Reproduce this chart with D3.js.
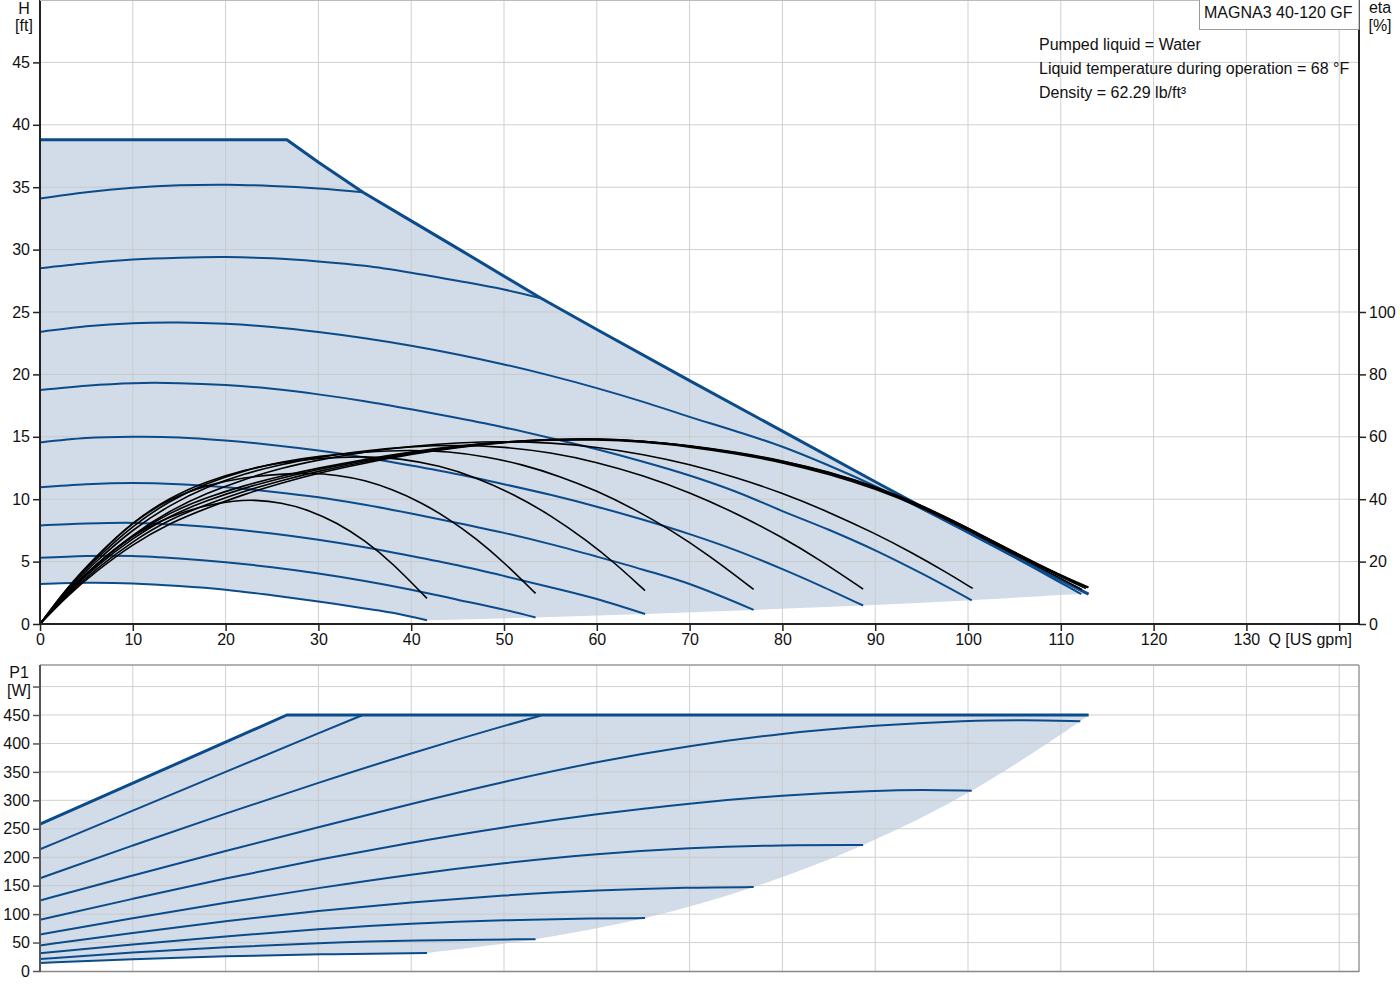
<!DOCTYPE html>
<html>
<head>
<meta charset="utf-8">
<script src="https://cdn.jsdelivr.net/npm/d3@7"></script>
<style>
  body { margin: 0; background: #fff; }
  svg text { font-family: "Liberation Sans", Arial, sans-serif; font-size: 16px; fill: #111; }
</style>
</head>
<body>
<div id="chart"></div>
<script>
// ---- data ----
var qTicks = [0, 10, 20, 30, 40, 50, 60, 70, 80, 90, 100, 110, 120, 130, 140];
var hTicks = [0, 5, 10, 15, 20, 25, 30, 35, 40, 45];
var hGrid = [5, 10, 15, 20, 25, 30, 35, 40, 45, 50];
var etaTicks = [0, 20, 40, 60, 80, 100];
var pTicks = [0, 50, 100, 150, 200, 250, 300, 350, 400, 450, 500];

var titleText = "MAGNA3 40-120 GF";
var infoLines = ["Pumped liquid = Water", "Liquid temperature during operation = 68 \u00B0F", "Density = 62.29 lb/ft\u00B3"];

// Q [US gpm] / H [ft] speed curves
var hMax = [[0, 38.8], [26.6, 38.8], [30, 37.0], [34.8, 34.6], [40, 32.3], [45, 30.1], [54, 26.1], [60, 23.6], [70, 19.5], [80, 15.45], [90, 11.4], [100, 7.4], [106, 5.0], [113, 2.4]];
var hS9 = [[0, 34.1], [5, 34.6], [10, 34.95], [15, 35.15], [20, 35.2], [25, 35.1], [30, 34.9], [34.8, 34.6]];
var hS8 = [[0, 28.5], [5, 28.9], [10, 29.2], [15, 29.35], [20, 29.4], [25, 29.3], [30, 29.05], [35, 28.7], [40, 28.15], [45, 27.5], [50, 26.8], [54, 26.1]];
var hS7 = [[0, 23.4], [5, 23.85], [10, 24.1], [15, 24.15], [20, 24.05], [25, 23.8], [30, 23.4], [35, 22.9], [40, 22.3], [45, 21.6], [50, 20.8], [55, 19.9], [60, 18.9], [65, 17.8], [70, 16.6], [75, 15.45], [80, 14.2], [85, 12.7], [90, 11.05], [94, 9.6], [100, 7.3], [105, 5.35], [110, 3.3], [112.2, 2.4]];
var hS6 = [[0, 18.75], [5, 19.1], [10, 19.3], [15, 19.3], [20, 19.15], [25, 18.85], [30, 18.4], [35, 17.85], [40, 17.2], [45, 16.5], [50, 15.75], [55, 14.9], [60, 14.0], [65, 13.0], [70, 11.9], [75, 10.6], [80, 9.05], [85, 7.55], [90, 5.9], [95, 4.05], [100.4, 1.9]];
var hS5 = [[0, 14.55], [5, 14.9], [10, 15.0], [15, 14.95], [20, 14.7], [25, 14.35], [30, 13.9], [35, 13.35], [40, 12.7], [45, 12.0], [50, 11.2], [55, 10.35], [60, 9.4], [65, 8.35], [70, 7.2], [75, 5.9], [80, 4.4], [84, 3.1], [88.7, 1.48]];
var hS4 = [[0, 10.95], [5, 11.2], [10, 11.3], [15, 11.2], [20, 10.95], [25, 10.6], [30, 10.15], [35, 9.55], [40, 8.85], [45, 8.1], [50, 7.3], [55, 6.4], [60, 5.4], [65, 4.35], [70, 3.2], [76.9, 1.13]];
var hS3 = [[0, 7.9], [5, 8.05], [10, 8.1], [15, 7.95], [20, 7.65], [25, 7.25], [30, 6.75], [35, 6.15], [40, 5.45], [45, 4.7], [50, 3.85], [55, 2.95], [60, 2.0], [65.2, 0.8]];
var hS2 = [[0, 5.3], [5, 5.45], [10, 5.45], [15, 5.25], [20, 4.95], [25, 4.55], [30, 4.05], [35, 3.45], [40, 2.75], [45, 1.95], [50, 1.15], [53.4, 0.52]];
var hS1 = [[0, 3.2], [5, 3.3], [10, 3.25], [15, 3.05], [20, 2.75], [25, 2.3], [30, 1.8], [35, 1.25], [38, 0.9], [41.7, 0.3]];

// Q / eta [%] efficiency curves
var etaA = [[0, 0], [3, 10.4], [6, 19.2], [10, 28.6], [14, 34.6], [18, 38.2], [21, 39.5], [23, 39.8], [26, 39.0], [29, 36.5], [32, 32.5], [35, 26.8], [38, 19.5], [41.7, 8.2]];
var etaB = [[0, 0], [3, 11.8], [6, 21.4], [10, 32.8], [14, 40.2], [18, 44.6], [22, 47.0], [26, 48.1], [29, 48.4], [32, 47.8], [35, 46.1], [38, 43.1], [41, 39.1], [44, 33.8], [47, 27.4], [50, 19.8], [53.4, 9.8]];
var etaC = [[0, 0], [3, 12.0], [6, 21.6], [10, 32.8], [14, 40.6], [18, 45.8], [22, 49.4], [26, 51.8], [30, 53.2], [35, 53.8], [39, 53.0], [43, 50.8], [47, 47.0], [51, 41.7], [55, 34.9], [59, 26.6], [62, 19.4], [65.2, 10.7]];
var etaD = [[0, 0], [3, 11.6], [6, 20.8], [10, 31.6], [14, 39.6], [18, 45.2], [22, 49.2], [26, 52.0], [30, 53.8], [35, 55.2], [40, 55.8], [44, 55.3], [48, 53.7], [52, 51.1], [56, 47.4], [60, 42.7], [64, 36.9], [68, 30.1], [72, 22.2], [76.9, 11.1]];
var etaE = [[0, 0], [3, 11.2], [6, 20.0], [10, 30.4], [14, 38.2], [18, 44.0], [22, 48.2], [26, 51.2], [30, 53.4], [35, 55.6], [40, 56.9], [45, 57.4], [50, 56.8], [55, 55.0], [60, 51.9], [65, 47.6], [70, 42.2], [75, 35.5], [80, 27.8], [84, 20.6], [88.7, 11.2]];
var etaF = [[0, 0], [3, 10.8], [6, 19.0], [10, 28.8], [14, 36.4], [18, 42.0], [22, 46.4], [26, 50.0], [30, 52.6], [35, 55.2], [40, 57.0], [45, 58.1], [50, 58.6], [55, 58.1], [60, 56.75], [65, 54.4], [70, 51.2], [75, 47.0], [80, 42.0], [85, 35.9], [90, 29.0], [94, 22.8], [97.5, 16.85], [100.5, 11.4]];
var etaG1 = [[0, 0], [3, 10.4], [6, 19.0], [10, 28.4], [14, 35.8], [18, 40.6], [22, 44.4], [26, 47.4], [30, 50.0], [35, 52.8], [40, 55.2], [45, 57.1], [50, 58.4], [55, 59.0], [60, 59.1], [65, 58.4], [70, 56.8], [75, 54.6], [80, 51.8], [85, 48.1], [90, 43.4], [95, 37.4], [100, 30.1], [105, 22.2], [110, 14.6], [112.3, 11.0]];
var etaG2 = [[0, 0], [3, 10.0], [6, 18.4], [10, 27.6], [14, 34.8], [18, 39.6], [22, 43.6], [26, 46.8], [30, 49.6], [35, 52.4], [40, 55.0], [45, 57.0], [50, 58.4], [55, 59.1], [60, 59.3], [65, 58.6], [70, 57.1], [75, 54.9], [80, 52.1], [85, 48.5], [90, 43.8], [95, 37.8], [100, 30.5], [105, 22.6], [110, 15.0], [112.7, 11.4]];
var etaG3 = [[0, 0], [3, 9.6], [6, 17.6], [10, 26.6], [14, 33.6], [18, 38.4], [22, 42.6], [26, 46.0], [30, 49.0], [35, 52.0], [40, 54.7], [45, 56.8], [50, 58.3], [55, 59.2], [60, 59.4], [65, 58.7], [70, 57.2], [75, 55.1], [80, 52.4], [85, 48.8], [90, 44.1], [95, 38.1], [100, 30.8], [105, 22.9], [110, 15.3], [112.9, 11.6]];
var etaG4 = [[0, 0], [3, 9.2], [6, 16.8], [10, 25.6], [14, 32.4], [18, 37.2], [22, 41.6], [26, 45.2], [30, 48.4], [35, 51.6], [40, 54.4], [45, 56.6], [50, 58.2], [55, 59.2], [60, 59.4], [65, 58.7], [70, 57.1], [75, 55.0], [80, 52.3], [85, 48.7], [90, 44.0], [95, 38.0], [100, 30.8], [105, 23.0], [110, 15.6], [113, 11.8]];

// Q / P1 [W] power curves
var pMax = [[0, 258], [26.6, 450], [113, 450]];
var pS9 = [[0, 214], [10, 282], [20, 350], [30, 418], [34.8, 450]];
var pS8 = [[0, 163], [10, 221], [20, 277], [30, 331], [40, 383], [50, 431], [54, 449]];
var pS7 = [[0, 124], [10, 168], [20, 211], [30, 253], [40, 294], [50, 333], [60, 368], [70, 396], [80, 418], [90, 432], [100, 440], [106, 441.5], [112.1, 439]];
var pS6 = [[0, 90], [10, 127], [20, 163], [30, 196], [40, 226], [50, 253], [60, 276], [70, 295], [80, 309], [90, 317], [95, 319], [100.4, 317]];
var pS5 = [[0, 64], [10, 93], [20, 120], [30, 146], [40, 170], [50, 190], [60, 206], [70, 216.5], [80, 221.5], [88.7, 221.5]];
var pS4 = [[0, 45], [10, 67], [20, 88], [30, 106], [40, 121], [50, 133], [60, 142], [70, 147], [76.9, 147.5]];
var pS3 = [[0, 31], [10, 47], [20, 61], [30, 74], [40, 83.5], [50, 89.5], [60, 92.5], [65.2, 93]];
var pS2 = [[0, 21], [10, 33], [20, 42], [30, 49], [40, 54], [53.4, 56]];
var pS1 = [[0, 14], [10, 21], [20, 26], [30, 29.5], [41.7, 31.5]];

// ---- drawing ----
var blue = "#0b4b8a", fillCol = "#d1dce8", gridCol = "#c9c9c9";
var left = 40, right = 1359;

var svg = d3.select("#chart").append("svg")
    .attr("width", 1400)
    .attr("height", 1000);

var x = d3.scaleLinear().domain([0, 140]).range([left, 1339.2]);
var yH = d3.scaleLinear().domain([0, 50]).range([624, 0]);
var yEta = d3.scaleLinear().domain([0, 200]).range([624, 0]);
var yP = d3.scaleLinear().domain([0, 450]).range([971, 715]);

function pathOf(pts, yScale, curve) {
  return d3.line()
      .x(function (d) { return x(d[0]); })
      .y(function (d) { return yScale(d[1]); })
      .curve(curve || d3.curveCatmullRom.alpha(0.5))(pts);
}
function last(a) { return a[a.length - 1]; }

// shaded operating areas
var hSpeeds = [hS7, hS6, hS5, hS4, hS3, hS2, hS1];
var hEdge = [last(hMax)].concat(hSpeeds.map(last));
var hArea = pathOf(hMax, yH, d3.curveLinear) +
    pathOf(hEdge, yH).replace(/^M/, "L") +
    pathOf(hS1.slice().reverse(), yH).replace(/^M/, "L") + "Z";
svg.append("path").attr("d", hArea).attr("fill", fillCol);

var pSpeeds = [pS7, pS6, pS5, pS4, pS3, pS2, pS1];
var pEdge = [last(pMax)].concat(pSpeeds.map(last));
var pArea = pathOf(pMax, yP, d3.curveLinear) +
    pathOf(pEdge, yP).replace(/^M/, "L") +
    pathOf(pS1.slice().reverse(), yP, d3.curveBasis).replace(/^M/, "L") + "Z";
svg.append("path").attr("d", pArea).attr("fill", fillCol);

// grid
var grid = svg.append("g").attr("stroke", gridCol).attr("stroke-width", 1).attr("opacity", 0.85);
qTicks.slice(1).forEach(function (q) {
  grid.append("line").attr("x1", x(q)).attr("x2", x(q)).attr("y1", 0).attr("y2", 624);
  grid.append("line").attr("x1", x(q)).attr("x2", x(q)).attr("y1", 665).attr("y2", 971);
});
hGrid.forEach(function (h) {
  grid.append("line").attr("x1", left).attr("x2", right).attr("y1", yH(h)).attr("y2", yH(h));
});
pTicks.slice(1).forEach(function (p) {
  grid.append("line").attr("x1", left).attr("x2", right).attr("y1", yP(p)).attr("y2", yP(p));
});

// blue speed curves
[hS9, hS8, hS7, hS6, hS5, hS4, hS3, hS2, hS1].forEach(function (c) {
  svg.append("path").attr("d", pathOf(c, yH)).attr("fill", "none")
      .attr("stroke", blue).attr("stroke-width", 2);
});
svg.append("path").attr("d", pathOf(hMax, yH, d3.curveLinear)).attr("fill", "none")
    .attr("stroke", blue).attr("stroke-width", 3).attr("stroke-linejoin", "round");

[pS9, pS8, pS7, pS6, pS5, pS4, pS3, pS2, pS1].forEach(function (c) {
  svg.append("path").attr("d", pathOf(c, yP, d3.curveBasis)).attr("fill", "none")
      .attr("stroke", blue).attr("stroke-width", 2);
});
svg.append("path").attr("d", pathOf(pMax, yP, d3.curveLinear)).attr("fill", "none")
    .attr("stroke", blue).attr("stroke-width", 3).attr("stroke-linejoin", "round");

// black efficiency curves (smoothed through the read points)
[etaA, etaB, etaC, etaD, etaE, etaF, etaG1, etaG2, etaG3, etaG4].forEach(function (c) {
  svg.append("path").attr("d", pathOf(c, yEta, d3.curveBasis)).attr("fill", "none")
      .attr("stroke", "#000").attr("stroke-width", 1.6);
});

// axes
function styleAxis(g, col) {
  g.selectAll(".domain").remove();
  g.selectAll(".tick line").attr("stroke", col).attr("stroke-width", 1.5);
  g.selectAll(".tick text").style("font-size", "16px").attr("fill", "#111");
}
var axH = svg.append("g").attr("transform", "translate(" + left + ",0)")
    .call(d3.axisLeft(yH).tickValues(hTicks).tickSize(7).tickPadding(3));
styleAxis(axH, "#222");
var axEta = svg.append("g").attr("transform", "translate(" + right + ",0)")
    .call(d3.axisRight(yEta).tickValues(etaTicks).tickSize(7).tickPadding(3));
styleAxis(axEta, "#222");
var axQ = svg.append("g").attr("transform", "translate(0,624)")
    .call(d3.axisBottom(x).tickValues(qTicks).tickSize(7).tickPadding(3)
      .tickFormat(function (d) { return d === 140 ? "" : d; }));
styleAxis(axQ, "#222");
var axP = svg.append("g").attr("transform", "translate(" + left + ",0)")
    .call(d3.axisLeft(yP).tickValues(pTicks).tickSize(7).tickPadding(3)
      .tickFormat(function (d) { return d === 500 ? "" : d; }));
styleAxis(axP, "#555");

// frame lines
svg.append("line").attr("x1", left).attr("x2", left).attr("y1", 0).attr("y2", 625)
    .attr("stroke", "#222").attr("stroke-width", 2);
svg.append("line").attr("x1", right).attr("x2", right).attr("y1", 0).attr("y2", 625)
    .attr("stroke", "#222").attr("stroke-width", 2);
svg.append("line").attr("x1", left - 1).attr("x2", right + 1).attr("y1", 624).attr("y2", 624)
    .attr("stroke", "#222").attr("stroke-width", 2);
svg.append("line").attr("x1", left).attr("x2", right).attr("y1", 0.5).attr("y2", 0.5)
    .attr("stroke", "#bbb").attr("stroke-width", 1);

svg.append("line").attr("x1", left).attr("x2", right).attr("y1", 665).attr("y2", 665)
    .attr("stroke", "#999").attr("stroke-width", 1.5);
svg.append("line").attr("x1", right).attr("x2", right).attr("y1", 665).attr("y2", 972)
    .attr("stroke", "#999").attr("stroke-width", 1.5);
svg.append("line").attr("x1", left).attr("x2", right).attr("y1", 971.5).attr("y2", 971.5)
    .attr("stroke", "#888").attr("stroke-width", 1.5);
svg.append("line").attr("x1", left).attr("x2", left).attr("y1", 665).attr("y2", 972)
    .attr("stroke", "#555").attr("stroke-width", 2);

// axis titles
svg.append("text").attr("x", 24).attr("y", 14).attr("text-anchor", "middle").text("H");
svg.append("text").attr("x", 24).attr("y", 31).attr("text-anchor", "middle").text("[ft]");
svg.append("text").attr("x", 1380).attr("y", 13).attr("text-anchor", "middle").text("eta");
svg.append("text").attr("x", 1380).attr("y", 31).attr("text-anchor", "middle").text("[%]");
svg.append("text").attr("x", 19).attr("y", 678).attr("text-anchor", "middle").text("P1");
svg.append("text").attr("x", 19).attr("y", 696).attr("text-anchor", "middle").text("[W]");
svg.append("text").attr("x", 1352).attr("y", 645).attr("text-anchor", "end").text("Q [US gpm]");

// title box and liquid info
svg.append("rect").attr("x", 1199.5).attr("y", -1).attr("width", 159.5).attr("height", 30.5)
    .attr("fill", "#fff").attr("stroke", "#999").attr("stroke-width", 1);
svg.append("text").attr("x", 1204).attr("y", 18).text(titleText);

svg.selectAll("text.info")
    .data(infoLines)
    .enter()
    .append("text")
    .attr("class", "info")
    .attr("x", 1039)
    .attr("y", function (d, i) { return 50 + i * 24; })
    .text(function (d) { return d; });
</script>
</body>
</html>
